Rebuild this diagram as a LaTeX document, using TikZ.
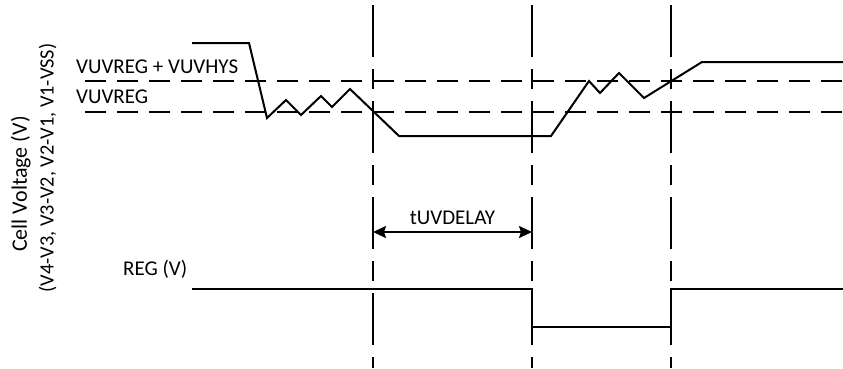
\documentclass[tikz,border=0pt]{standalone}
\usepackage{fontspec}
\setmainfont{Carlito}
\usetikzlibrary{arrows.meta,positioning}

\begin{document}
\begin{tikzpicture}[x=1pt,y=-1pt,font=\fontsize{21}{26}\selectfont,
  >={Stealth[length=13pt,width=12pt,inset=2pt]},
  sig/.style={line width=2pt,line join=miter},
  lvl/.style={line width=2.4pt,dash pattern=on 21pt off 11pt},
  evt/.style={line width=2.4pt,dash pattern=on 52pt off 12pt on 20pt off 12pt},
  txt/.style={inner sep=0pt,anchor=base west}]
  \useasboundingbox (0,0) rectangle (843,368);
  % axis label
  \node[inner sep=0pt,anchor=base,rotate=90,font=\fontsize{22}{26}\selectfont] (ylab) at (27,184) {Cell Voltage (V)};
  \node[inner sep=0pt,anchor=base,rotate=90,font=\fontsize{20.3}{26}\selectfont] (ylab2) at (53.5,168) {(V4-V3, V3-V2, V2-V1, V1-VSS)};
  % threshold levels
  \coordinate (hys) at (85,81);
  \coordinate (reg) at (85,112);
  \coordinate (rend) at (843,0);
  \draw[lvl] (hys) -- (hys -| rend);
  \draw[lvl] (reg) -- (reg -| rend);
  \node[txt] (lhys) at (76,73.5) {VUVREG + VUVHYS};
  \node[txt] (lreg) at (76,103.5) {VUVREG};
  % event markers
  \coordinate (bot) at (0,368);
  \coordinate (t1) at (373,5);
  \coordinate (t2) at (532,5);
  \coordinate (t3) at (671,5);
  \foreach \t in {t1,t2,t3}
    \draw[evt] (\t) -- (\t |- bot);
  % cell voltage
  \draw[sig] (192,43) -- (249,43) -- (267,118) -- (286,100) -- (301,115) -- (321,96)
    -- (332,107) -- (350,89) -- (399,136) -- (551,136) -- (589,81) -- (600,93)
    -- (619,73) -- (644,98) -- (702,62) -- (843,62);
  % delay
  \coordinate (dly) at (0,232);
  \draw[<->,line width=1.8pt] (t1 |- dly) -- node[above=6pt,inner sep=0pt] (ldly) {tUVDELAY} (t2 |- dly);
  % REG output
  \node[txt] (lout) at (123,275.5) {REG (V)};
  \draw[sig] (192,289) -- (532,289) -- (532,327) -- (671,327) -- (671,289) -- (843,289);
\end{tikzpicture}
\end{document}
